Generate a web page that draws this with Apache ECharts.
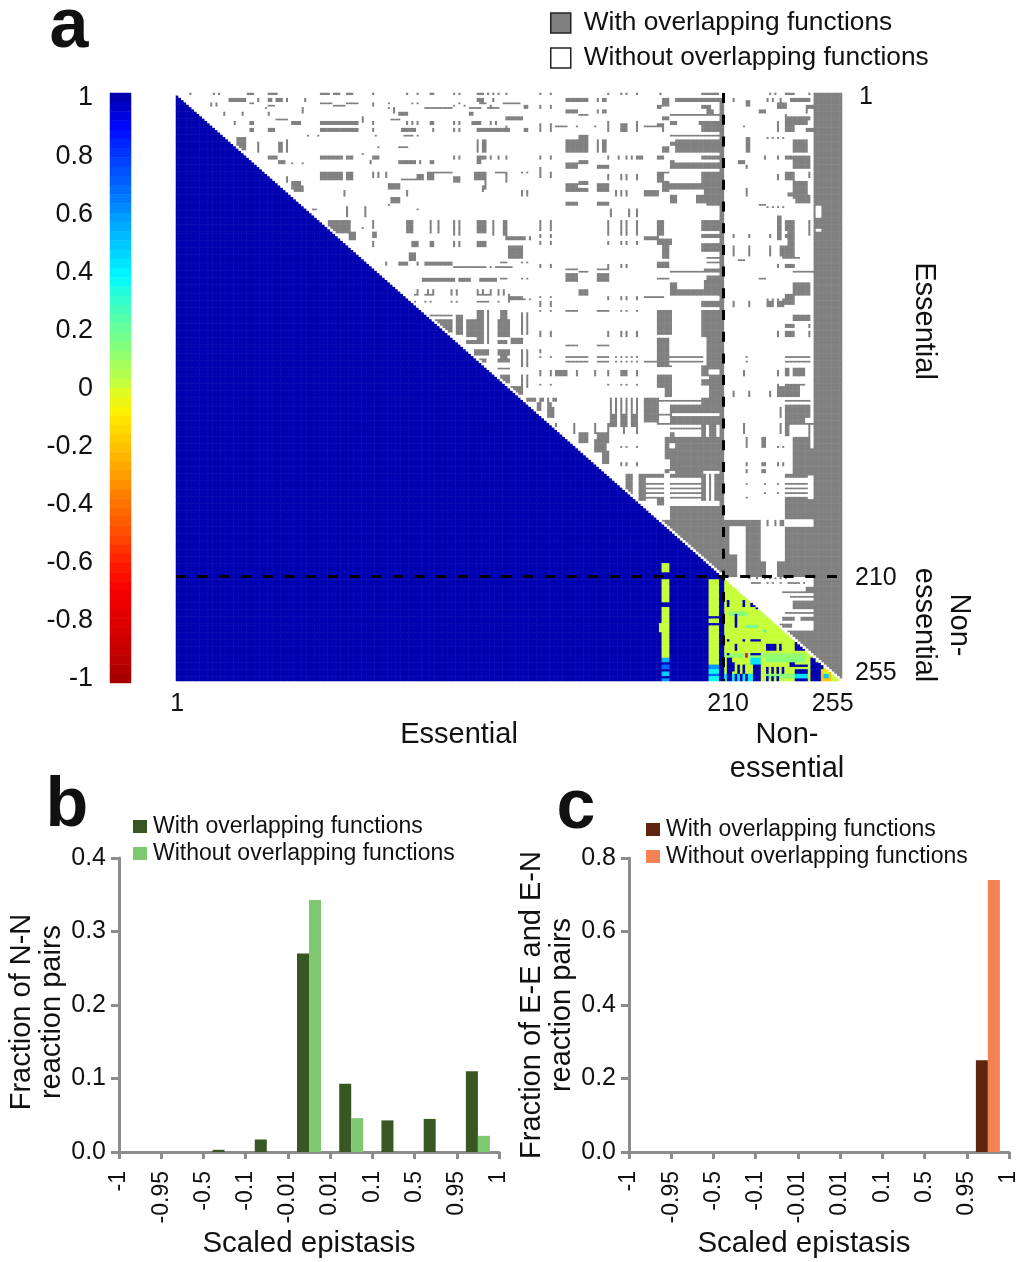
<!DOCTYPE html>
<html><head><meta charset="utf-8">
<style>html,body{margin:0;padding:0;background:#fff}#c{width:1016px;height:1262px}</style>
<script src="https://cdn.jsdelivr.net/npm/echarts@6/dist/echarts.min.js"></script>
</head><body><div id="c"></div>
<script>
// ---------- panel a: scaled epistasis and overlap, cells given as "rows:cols" runs (0-based, inclusive)
const reactionCount = 255;
const matrixTicks = ['1', '210', '255'];
const grayRunsLeft = [
'0-0:5,14,16,27-29,35-38,55-58,60-62,65-67,75,88,92,97,98,106,108,115-117,119,121,123',
'2-3:20-26,31,35-36,38-40,42,49,115-117,121',
'4-4:13,15,28-29,55-59,65-69,75,81,90,92,108,116-118',
'5-5:13,15,35-37,60-64,75,106,110,120',
'6-6:34,81,95-105,112-116,119-123',
'6-8:48,83',
'8-9:85-88,18,25,35,112-113',
'10-12:71',
'11-11:38-42,82-85',
'12-13:22,28-29,44-47,55-59,60-64,65-69,75,88,90,92,97,98,106,108,113-116,120,122',
'15-16:28-29,35-37,55-59,60-64,65-69,75,86-91,98,106,108,115-123',
'18-18:50,54,76,87-90,92',
'19-24:23-26',
'20-25:42,115,117-118',
'21-25:31,39-40',
'23-23:77,85-88',
'26-26:71',
'27-28:35-38,55-59,60-63,65-67,75-77,106,108,115-118,120,123,126',
'29-30:39-41,74,85-90,91,93,97,98,115-116',
'30-30:44,48',
'34-37:55-59,60-63,65-67,96-98,114-118',
'34-36:75,77,80',
'34-34:99-105,122-126',
'35-35:34-35',
'36-38:42,106-108',
'35-37:92-94',
'37-37:86-91',
'38-41:44-47,118',
'40-42:45-48,117',
'39-41:81-85',
'42-44:64,88',
'45-47:82-85',
'48-48:81',
'49-53:65,72',
'50-50:52-53,92',
'55-60:58-62,62-66,88-90,97,100,115-118',
'55-58:75','60-62:75,76',
'58-58:71',
'55-61:106,108,121,125',
'60-63:66-68',
'64-66:75,90-92,97,98,106,108,115-118',
'69-72:89-91',
'73-74:96-105,80,85-88,92,95',
'75-75:106-112,113-118,120,122-128',
'80-81:94-106,108-112,116-122',
'85-87:92,96,98,105,107,115,117,120,123,125',
'87-87:91,95,97,105,107,115-118,119,123,127',
'90-90:91,95,97,105,107,115-118,119,123,127',
'94-107:115-117,119',
'95-104:132,134',
'96-96:97-104,105,107',
'96-104:107-109',
'98-103:99-105',
'98-105:111-114,123-127',
'106-106:128-132',
'107-108:111-114,115-117,119,123-126,128-132',
'111-113:114-118,119,123-127,132,134',
'115-116:116-118,123-127,132,134',
'119-119:123-127',
'122-125:124-127,132,134',
'127-130:128-132'
];
const grayRunsRight = [
'0-0:126,139,143,165,170,172,176,185,201-207,227,229,233-236,242',
'2-3:149-153,154-157,161,163-164,191-207,213,226,228,231,235-242',
'2-5:186-188','3-5:218-219',
'4-4:125-131,230-233',
'5-6:133,134,139,143,184-185,201-204,230-233,241-243',
'7-8:149-153,161,163-164,203-205,223-225,241',
'9-9:154-157,189-207,233',
'10-11:126-132,186-188,233-236,237-242',
'12-13:189-191,200-207,237-241',
'12-16:165,176,230,233-236',
'13-14:139,143,170-172,184-186',
'14-14:126,145-149,153,160,179-184,201-207,217',
'15-16:124-127,133,134,139,143,170-172,186,201-207,241-243',
'18-18:154-157,189-207',
'19-19:226,228,230,232',
'19-25:154-157,218-219',
'20-25:149-153,161,163-164,191-207,236-241',
'21-22:189-190',
'23-25:186-188',
'27-28:126,139,143,165,169,172,174,176-178,184-186,201-204,205-207,225,230,233-236,237-242',
'29-30:154-157,189-190,215-217,236-242',
'30-30:149-153,191-207',
'31-32:149-153,161-165,189-207,218,236-242',
'32-36:139',
'34-34:124-126,132,134,184-188,201-207',
'34-36:143,242',
'34-38:126,184-186,201-203',
'34-37:204-207,233-236',
'35-37:165,170,172,176,230',
'38-39:154-157',
'39-40:149-153,161-165',
'38-42:186-188',
'39-41:189-201',
'38-45:236-241',
'38-47:202-207',
'40-41:189-191',
'41-42:149-153,154-157,161-165,218',
'42-44:132,134,168,170,172,179-184,218',
'43-44:234-236',
'44-47:189-191,199-201,237-242',
'47-48:149-153,161-165,203-207',
'48-48:223-225',
'49-49:226,228,230,232',
'50-53:166,173,176',
'53-63:230-231',
'55-59:139,143,201-204,205-207',
'55-61:126,165,170,172,176,184-186,242',
'55-59:233-236',
'60-71:234-236',
'61-62:139,143,201-204,205-207,213,219,227,233',
'62-63:126-132,133,135,179-184',
'63-65:184-189',
'64-65:139,143,165,170,172,176',
'65-68:201-204,205-207',
'66-70:127-132,186-188,213,219,227,231-233',
'71-71:127-132,186-188,203-207,232-238',
'72-72:215-217',
'73-73:124-126,132,134,184-188,203-207',
'74-75:139,143,165,170,172,184-188,230,233-236',
'76-76:149-153,161-165,202-207',
'77-77:154-157,189-207,236-243',
'78-80:149-153,161-165',
'79-82:203-207',
'80-80:124-126,132,134,184-188,223-225',
'81-81:149-153,161-165,202-207',
'82-85:189-191,236-242,202-207',
'85-87:154-157,189-201,202-207,236-242',
'87-91:233-236',
'88-88:179-184,127-132,139,143,165,170,172,176,184-186',
'89-89:127-132,133,135,165,170,172,176,226,228,230,232',
'90-92:139,143,201-207,213,219,226-228,230-232',
'94-94:149-153,161-165,139,143,170,172,176',
'94-104:184-189,124-126,201,203-207',
'94-105:201-203',
'96-98:236-241,242',
'100-101:203-207,233-236,242',
'103-105:139,143,165,170,172,176,203-207,230,233-236,242',
'106-112:184-188,203-207',
'109-109:149-153,161-165',
'111-112:124-125,139',
'113-118:132,134,184-188,203-207',
'114-114:124-126,139,143,149-153,154-157,161-165,168,170,172,174,176,184-188,189-201,218,233-242',
'116-116:124-126,149-153,154-157,161-165,168,170,172,174,176,179-186,189-201,218,233-242',
'118-118:184-189,201-209',
'119-122:201-203,233-234,236-240',
'119-119:204-209',
'120-122:139,143,145-149,153,160,165,170-172,176,217,230',
'123-123:204-209',
'122-127:184-186,132,134',
'122-131:187-189,204-207',
'124-126:201-203',
'126-126:139,143,165,170,172,176,230,233-240',
'127-131:230-232,233-236,237-238',
'129-131:213,219,227',
'130-132:128-131',
'132-138:166,168,170,172,174,176,179-184,201-209',
'133-133:185-189,189-201,233-242',
'132-133:134-137,139,140,142,144,145',
'134-137:138-139,142-143',
'135-138:189-201,233-242',
'136-140:142-144,231,233-242',
'139-144:166-168,170-172,174-176',
'139-139:179-189,233-241',
'140-142:179-184',
'140-143:189-201,201-209,233-240',
'143-143:184-188,240-243',
'143-147:145,152,160,165,171,176,217,231',
'144-148:201-202,204-206,233-234,242',
'147-151:154-157,161-165,189,190',
'145-145:189-201',
'149-153:187-188,191-201,201-209,236-242,218,224-225',
'150-155:160-164',
'153-153:170,172,176,218,230,232',
'154-158:187-209,236-244',
'155-160:163-165',
'157-165:236-243',
'159-163:189-209',
'160-161:170,172,176,201-203,205,207,218,224-225,230,232',
'163-164:187-188,191-201,218,224-225',
'165-165:179-186,189-201,233-243',
'165-176:172-174,177-179,201-202,204,206-207',
'166-166:180-186,189-201,233-241',
'169-169:180-186,189-201,233-241,218,225,230',
'171-171:180-186,189-201,233-241',
'173-173:180-186,189-201,233-241,225,230',
'175-175:180-186,189-201,233-241,218',
'176-178:184-186,233-243',
'179-184:189-209,233-243',
'184-185:208-209,201-207',
'185-209:186-209',
'185-187:210-223,226,229,231-232',
'188-209:210-211,218-219,220-223,233-243',
'179-184:233-243',
'200-209:218,212-214',
'203-209:223-225,230-232'
];
const grayRunsNonEssential = [
'210-254:244-254',
'210-210:219,222,225,227,229,231,233',
'212-212:220-223,226,228,231,234-238,240',
'214-215:241-243',
'216-216:232-243',
'218-218:235-243',
'220-223:236-243',
'225-225:233-243',
'227-228:232-236,239-243',
'230-231:231-235',
'233-254:210-243'
];
const whiteRuns = ['49-53:245-246', '59-59:245-246'];

// values below the diagonal differ from 1 only in these runs: [rows:cols, scaled epistasis]
const valueRuns = [
['204-207:186-188', 0.02], ['211-220:186-188', 0.02], ['223-243:186-188', 0.02], ['230-233:185', 0.02],
['244-244:186-188', 0.02], ['245-246:186-188', 0.55], ['248-249:186-188', 0.7], ['251-252:186-188', 0.5], ['254-254:186-188', 0.6],
['211-226:204-207', 0.02], ['228-229:204-207', 0.02], ['231-247:204-207', 0.02],
['248-249:204-207', 0.6], ['250-251:204-207', 0.38], ['252-252:204-207', 0.7], ['253-254:204-207', 0.38],
['211-254:210-254', 0.02],
['243-244:210-240', 0.12], ['252-254:210-223', 0.42], ['245-246:226-240', 0.15], ['252-253:226-240', 0.15],
['225-226:212-218', 0.15], ['231-231:218-222', 0.25], ['233-233:225', 0.35],
['220-222:211,217', 1], ['221-222:220-221', 1], ['222-223:222-223', 1], ['226-231:214', 1],
['223-224:227-228', 1], ['225-226:229-230', 1], ['229-230:231-232', 1],
['237-237:211,217,220-223', 1], ['239-241:214,226-227,228-229,231', 1], ['238-241:237-238', 1],
['240-241:239-241', 1], ['243-243:211,220-223', 1], ['243-244:218', -0.7],
['245-254:211-212', 1], ['247-250:213', 1], ['248-251:215,217', 1], ['252-254:214,216,218', 1],
['245-254:221-223', 1], ['245-247:220-223', 0.45],
['249-251:226,228,230,232', 1], ['253-254:226,228,230', 1],
['247-248:235-236', 1],
['248-248:237-241', 1], ['250-251:237-241', 1], ['252-253:237-241', 0.45], ['254-254:237-241', 1],
['245-254:243-244', 1], ['247-254:245-247', 1],
['250-254:247-250', 0.01], ['250-250:247-250', -0.15], ['254-254:247-250', -0.2], ['251-253:247', -0.2], ['251-253:250', -0.2], ['252-253:248-249', 0.5]
];
const scaleStops = ['#a80000','#c80000','#e00000','#f80000','#ff2000','#ff5000','#ff7800','#ffa000','#ffc800','#fff000','#d0ff30',
  '#a0ff60','#70ff90','#38ffc8','#00f8ff','#00c8ff','#0098ff','#0068ff','#0038ff','#0008ff','#0000b0'];
const colorbarLevels = [1,.97,.94,.91,.88,.84,.81,.78,.75,.72,.69,.66,.63,.59,.56,.53,.5,.47,.44,.41,.38,.34,.31,.28,.25,.22,.19,.16,.13,.09,.06,.03,
  -.03,-.06,-.09,-.13,-.16,-.19,-.22,-.25,-.28,-.31,-.34,-.38,-.41,-.44,-.47,-.5,-.53,-.56,-.59,-.63,-.66,-.69,-.72,-.75,-.78,-.81,-.84,-.88,-.91,-.94,-.97,-1];

// ---------- panels b and c
const binEdges = ['-1','-0.95','-0.5','-0.1','-0.01','0.01','0.1','0.5','0.95','1'];
const binNames = ['-1 to -0.95','-0.95 to -0.5','-0.5 to -0.1','-0.1 to -0.01','-0.01 to 0.01','0.01 to 0.1','0.1 to 0.5','0.5 to 0.95','0.95 to 1'];
const nnWith    = [0, 0, 0.003, 0.017, 0.27, 0.093, 0.043, 0.045, 0.11];
const nnWithout = [0, 0, 0, 0, 0.343, 0.046, 0, 0, 0.022];
const eeWith    = [0, 0, 0, 0, 0, 0, 0, 0, 0.25];
const eeWithout = [0, 0, 0, 0, 0, 0, 0, 0, 0.74];
const WITH = 'With overlapping functions', WITHOUT = 'Without overlapping functions';
const FONT = '"Liberation Sans", Arial, sans-serif';

// ---------- expand runs
function parseRun(run) {
  const [rowPart, colPart] = run.split(':');
  const span = s => { const m = s.split('-').map(Number); return [m[0], m.length > 1 ? m[1] : m[0]]; };
  return { rows: span(rowPart), cols: colPart.split(',').map(span) };
}
function eachCell(run, fn) {
  const p = parseRun(run);
  for (let r = p.rows[0]; r <= p.rows[1]; r++)
    for (const c of p.cols) for (let k = c[0]; k <= c[1]; k++) fn(r, k);
}
const indexLabels = [];
for (let i = 1; i <= reactionCount; i++) indexLabels.push(String(i));
const grayMap = new Set(), valueMap = new Map();
grayRunsLeft.concat(grayRunsRight, grayRunsNonEssential).forEach(run => eachCell(run, (r, c) => { if (c > r) grayMap.add(r * 1000 + c); }));
for (let r = 0; r < 210; r++) { for (let c = 244; c < reactionCount; c++) grayMap.add(r * 1000 + c); if (r >= 2) { grayMap.add(r * 1000 + 208); grayMap.add(r * 1000 + 209); } }
whiteRuns.forEach(run => eachCell(run, (r, c) => grayMap.delete(r * 1000 + c)));
valueRuns.forEach(([run, v]) => eachCell(run, (r, c) => { if (c < r) valueMap.set(r * 1000 + c, v); }));
const valueCells = [], grayCells = [], whiteCells = [];
for (let r = 0; r < reactionCount; r++) for (let c = 0; c < reactionCount; c++) {
  if (c < r) valueCells.push([c, r, valueMap.has(r * 1000 + c) ? valueMap.get(r * 1000 + c) : 1]);
  else if (grayMap.has(r * 1000 + c) && c > r) grayCells.push([c, r, 1]);
  else whiteCells.push([c, r, 0]);
}

// ---------- helpers
const AXIS_GRAY = '#8c8c8c';
const txt = (text, x, y, size, extra) => ({ type: 'text', x, y, rotation: (extra && extra.rotation) || 0,
  style: Object.assign({ text, fill: (extra && extra.fill) || '#111', font: ((extra && extra.weight) || 'normal') + ' ' + size + 'px ' + FONT,
    textAlign: (extra && extra.align) || 'center', textVerticalAlign: 'middle', lineHeight: (extra && extra.lineHeight) || size }) });
const barLegend = (left, top, c1, c2) => ({ orient: 'vertical', left, top, itemWidth: 14, itemHeight: 13, itemGap: 4, selectedMode: false, padding: 0,
  textStyle: { fontFamily: FONT, fontSize: 23, color: '#111', padding: [0, 0, 0, 1] }, icon: 'rect',
  data: [{ name: WITH, itemStyle: { color: c1, borderWidth: 0 } }, { name: WITHOUT, itemStyle: { color: c2, borderWidth: 0 } }] });
const edgeAxis = (gridIndex, namePad) => ({ type: 'category', gridIndex, data: binEdges, boundaryGap: false, position: 'bottom', name: 'Scaled epistasis', nameLocation: 'middle', nameGap: 77,
  nameTextStyle: { fontFamily: FONT, fontSize: 29.5, color: '#111', padding: namePad },
  axisLine: { lineStyle: { color: AXIS_GRAY, width: 3 } }, axisTick: { alignWithLabel: true, interval: 0, length: 7, lineStyle: { color: AXIS_GRAY, width: 3 } },
  axisLabel: { interval: 0, rotate: 90, fontFamily: FONT, fontSize: 23, color: '#111', margin: 19 } });
const binAxis = (gridIndex) => ({ type: 'category', gridIndex, data: binNames, show: false });
const valAxis = (gridIndex, max, interval, name, pad) => ({ type: 'value', gridIndex, min: 0, max, interval, name, nameLocation: 'middle', nameGap: 49, nameRotate: 90,
  nameTextStyle: { fontFamily: FONT, fontSize: 29, color: '#111', lineHeight: 30, padding: pad },
  splitLine: { show: false }, axisLine: { show: true, lineStyle: { color: AXIS_GRAY, width: 3 } }, axisTick: { show: true, length: 8, lineStyle: { color: AXIS_GRAY, width: 3 } },
  axisLabel: { fontFamily: FONT, fontSize: 25, color: '#111', margin: 13, formatter: v => v.toFixed(1) } });
const barSeries = (name, data, color, xAxisIndex, yAxisIndex) => ({ type: 'bar', name, data, xAxisIndex, yAxisIndex, barWidth: 12, barGap: 0, itemStyle: { color }, silent: true });
const showTick = (i, label) => matrixTicks.includes(label);
const tickRich = (extra) => Object.assign({ fontFamily: FONT, fontSize: 25, color: '#111' }, extra);

const option = {
  animation: false, backgroundColor: '#fff',
  grid: [
    { left: 176, top: 93, width: 666, height: 588, outerBoundsMode: 'none' },
    { left: 110, top: 93, width: 21, height: 590, outerBoundsMode: 'none' },
    { left: 110, top: 98, width: 21, height: 581, outerBoundsMode: 'none' },
    { left: 119, top: 858, width: 380, height: 294, outerBoundsMode: 'none' },
    { left: 629, top: 858, width: 380, height: 294, outerBoundsMode: 'none' }
  ],
  xAxis: [
    { type: 'category', gridIndex: 0, data: indexLabels, axisLine: { show: false }, axisTick: { show: false }, splitLine: { show: false },
      axisLabel: { interval: showTick, margin: 11, fontFamily: FONT, fontSize: 25, color: '#111',
        formatter: v => v === '255' ? '{e|255}' : (v === '210' ? '{m|210}' : v),
        rich: { e: tickRich({ padding: [0, 16, 0, 0] }), m: tickRich({ padding: [0, 0, 0, 10] }) } } },
    { type: 'category', gridIndex: 1, data: ['scale'], show: false },
    { type: 'category', gridIndex: 2, data: ['scale'], show: false },
    binAxis(3), edgeAxis(3, 0),
    binAxis(4), edgeAxis(4, [0, 30, 0, 0])
  ],
  yAxis: [
    { type: 'category', gridIndex: 0, data: indexLabels, inverse: true, position: 'right', axisLine: { show: false }, axisTick: { show: false }, splitLine: { show: false },
      axisLabel: { interval: showTick, margin: 13, fontFamily: FONT, fontSize: 25, color: '#111',
        formatter: v => v === '255' ? '{e|255}' : (v === '1' ? '{o|1}' : '{m|210}'),
        rich: { e: tickRich({ padding: [0, 0, 14, 0] }), o: tickRich({ padding: [6, 0, 0, 4] }), m: tickRich({ padding: [4, 0, 0, 0] }) } } },
    { type: 'category', gridIndex: 1, data: colorbarLevels.map(String), inverse: true, show: false },
    { type: 'value', gridIndex: 2, min: -1, max: 1, interval: 0.2, axisLine: { show: false }, axisTick: { show: false }, splitLine: { show: false },
      axisLabel: { margin: 17, fontFamily: FONT, fontSize: 27, color: '#111', formatter: v => String(Math.round(v * 10) / 10) } },
    valAxis(3, 0.4, 0.1, 'Fraction of N-N\nreaction pairs', [0, 14, 0, 0]),
    valAxis(4, 0.8, 0.2, 'Fraction of E-E and E-N\nreaction pairs', 0)
  ],
  visualMap: [
    { type: 'continuous', show: false, min: -1, max: 1, dimension: 2, seriesIndex: [0, 3], inRange: { color: scaleStops } },
    { type: 'continuous', show: false, min: 0, max: 1, dimension: 2, seriesIndex: [1, 2], inRange: { color: ['#ffffff', '#808080'] } }
  ],
  legend: [
    { orient: 'vertical', left: 550, top: 10, itemWidth: 20, itemHeight: 20, itemGap: 9, selectedMode: false, padding: 0, icon: 'rect',
      textStyle: { fontFamily: FONT, fontSize: 26.3, color: '#111', padding: [0, 0, 0, 8] },
      data: [{ name: WITH, itemStyle: { color: '#808080', borderColor: '#222', borderWidth: 1.5 } },
             { name: WITHOUT, itemStyle: { color: '#ffffff', borderColor: '#222', borderWidth: 1.5 } }] },
    barLegend(133, 815, '#385723', '#7fc871'),
    barLegend(646, 818, '#5e2610', '#f58253')
  ],
  series: [
    { type: 'heatmap', name: 'Scaled epistasis', xAxisIndex: 0, yAxisIndex: 0, data: valueCells, progressive: 0, silent: true },
    { type: 'heatmap', name: WITH, xAxisIndex: 0, yAxisIndex: 0, data: grayCells, progressive: 0, silent: true },
    { type: 'heatmap', name: WITHOUT, xAxisIndex: 0, yAxisIndex: 0, data: whiteCells, progressive: 0, silent: true,
      markLine: { silent: true, symbol: 'none', animation: false, label: { show: false },
        lineStyle: { color: '#000', width: 3, type: [10, 11.7] }, data: [{ xAxis: '210' }, { yAxis: '210' }] } },
    { type: 'heatmap', name: 'Colour scale', xAxisIndex: 1, yAxisIndex: 1, data: colorbarLevels.map((v, i) => [0, i, v]), progressive: 0, silent: true },
    barSeries(WITH, nnWith, '#385723', 3, 3), barSeries(WITHOUT, nnWithout, '#7fc871', 3, 3),
    barSeries(WITH, eeWith, '#5e2610', 5, 4), barSeries(WITHOUT, eeWithout, '#f58253', 5, 4)
  ],
  graphic: { elements: [
    txt('a', 69, 28, 70, { weight: 'bold' }),
    txt('b', 67, 807, 70, { weight: 'bold' }),
    txt('c', 576, 809, 70, { weight: 'bold' }),
    txt('Essential', 459, 735, 29),
    txt('Non-\nessential', 787, 752, 29, { lineHeight: 34 }),
    txt('Essential', 924, 321, 29, { rotation: -Math.PI / 2 }),
    txt('Non-\nessential', 941, 625, 29, { rotation: -Math.PI / 2, lineHeight: 35 })
  ] }
};
const chart = echarts.init(document.getElementById('c'), null, { renderer: 'canvas' });
chart.setOption(option);
</script></body></html>
